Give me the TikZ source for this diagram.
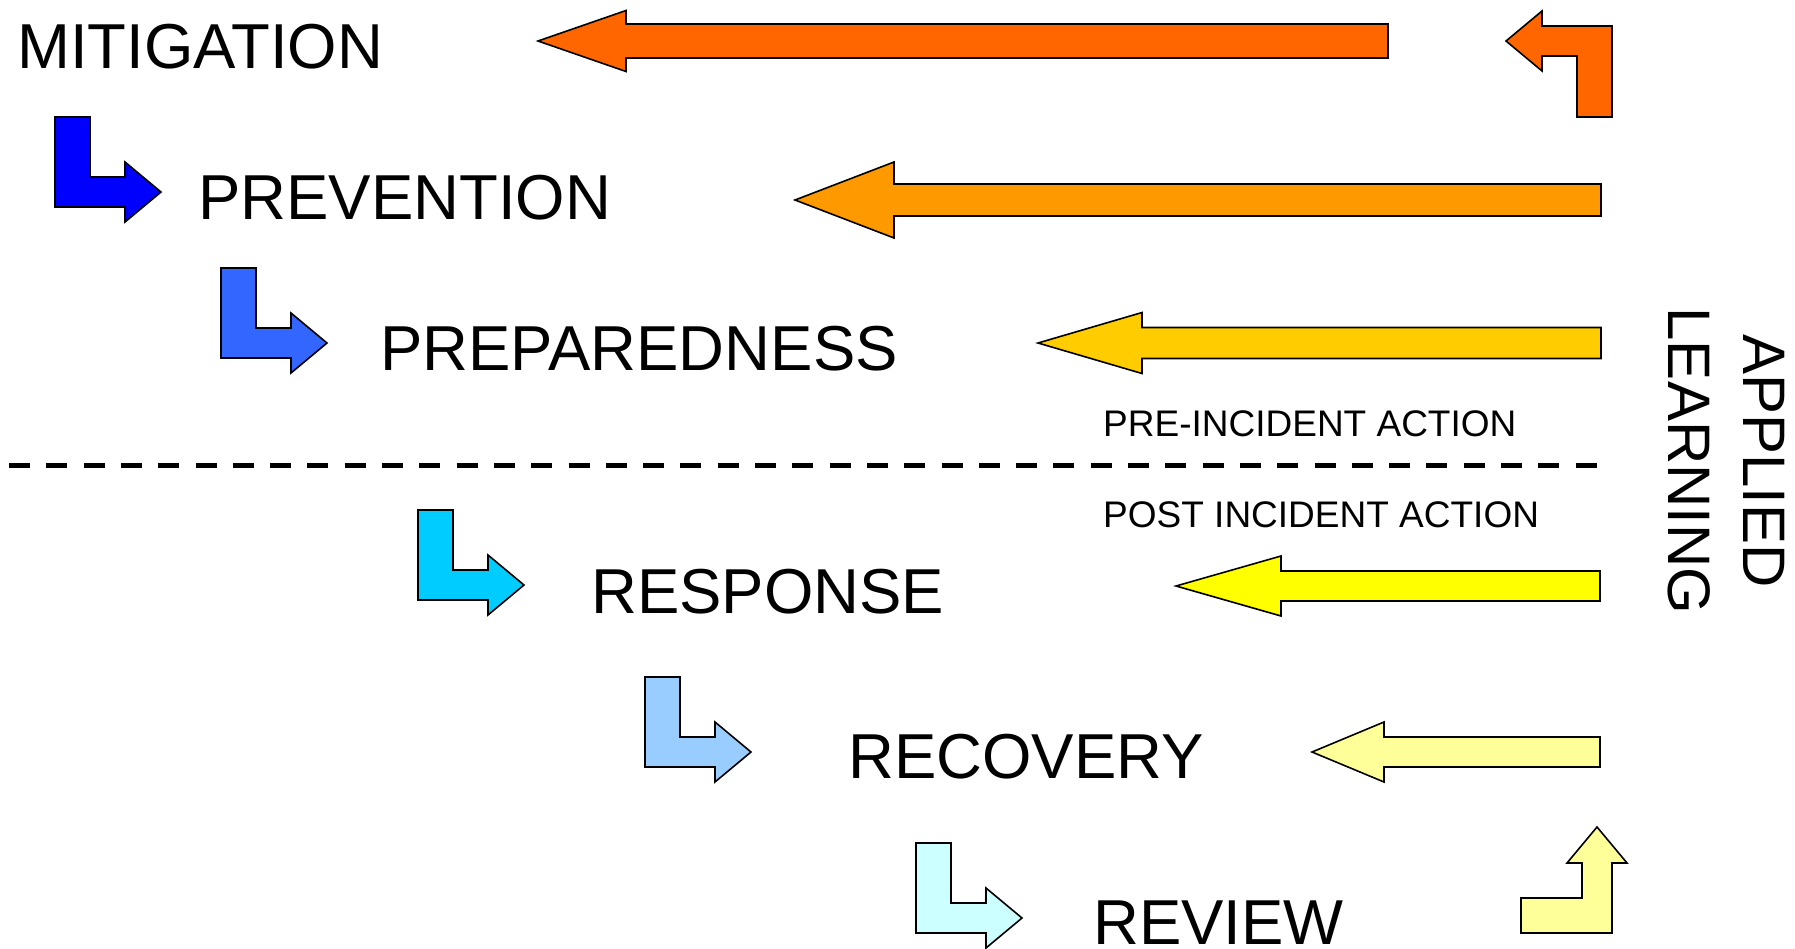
\documentclass[tikz,border=0pt]{standalone}
\usepackage{fontspec}
\setmainfont{Liberation Sans}
\usetikzlibrary{positioning}
\definecolor{learnA}{HTML}{FF6600}
\definecolor{learnB}{HTML}{FF9900}
\definecolor{learnC}{HTML}{FFCC00}
\definecolor{learnD}{HTML}{FFFF00}
\definecolor{learnE}{HTML}{FFFF99}
\definecolor{stageA}{HTML}{0000FF}
\definecolor{stageB}{HTML}{3366FF}
\definecolor{stageC}{HTML}{00CCFF}
\definecolor{stageD}{HTML}{99CCFF}
\definecolor{stageE}{HTML}{CCFFFF}
\tikzset{
  block/.style={draw=black, line width=1.6pt, line join=miter},
  stage/.style={font=\fontsize{63.5}{76}\selectfont, inner sep=0pt, anchor=base west},
  side/.style={font=\fontsize{37}{44}\selectfont, inner sep=0pt, anchor=base west}
}
% left pointing block arrow: colour, tip x, head x, end x, mid y, shaft half, head half
\newcommand{\leftblock}[7]{\draw[block, fill=#1] (#2,#5) -- (#3,{#5-#7}) -- (#3,{#5-#6}) -- (#4,{#5-#6}) -- (#4,{#5+#6}) -- (#3,{#5+#6}) -- (#3,{#5+#7}) -- cycle;}
% step arrow (down then right): colour, left x, top y
\newcommand{\stepdown}[3]{\draw[block, fill=#1] (#2,#3) -- ({#2+35},#3) -- ({#2+35},{#3+60}) -- ({#2+70},{#3+60}) -- ({#2+70},{#3+45}) -- ({#2+106},{#3+75}) -- ({#2+70},{#3+105}) -- ({#2+70},{#3+90}) -- (#2,{#3+90}) -- cycle;}

\begin{document}
\begin{tikzpicture}[x=1pt, y=-1pt]
\useasboundingbox (0,0) rectangle (1795,948);

\node[stage] (mitigation) at (17,68) {MITIGATION};
\node[stage] (prevention) at (198,219) {PREVENTION};
\node[stage] (preparedness) at (380,370) {PREPAREDNESS};
\node[stage] (response) at (591,613) {RESPONSE};
\node[stage] (recovery) at (848,778) {RECOVERY};
\node[stage] (review) at (1093,944) {REVIEW};

\stepdown{stageA}{55}{117};
\stepdown{stageB}{221}{268};
\stepdown{stageC}{418}{510};
\stepdown{stageD}{645}{677};
\stepdown{stageE}{916}{843};

\leftblock{learnA}{538}{626}{1388}{41}{17}{30.5};
\leftblock{learnB}{795}{894}{1601}{200}{16}{38};
\leftblock{learnC}{1038}{1142}{1601}{343}{15.5}{30.5};
\leftblock{learnD}{1176}{1281}{1600}{586}{15}{30};
\leftblock{learnE}{1312}{1384}{1600}{752}{15}{30};

% bent arrows at the right end
\draw[block, fill=learnA] (1506,41) -- (1542,11) -- (1542,26) -- (1612,26) -- (1612,117) -- (1577,117) -- (1577,56) -- (1542,56) -- (1542,71) -- cycle;
\draw[block, fill=learnE] (1597,827) -- (1627,863) -- (1612,863) -- (1612,933) -- (1521,933) -- (1521,898) -- (1582,898) -- (1582,863) -- (1567,863) -- cycle;

\coordinate (divleft) at (9,465);
\coordinate (divright) at (1600,465);
\draw[line width=5pt, dash pattern=on 21pt off 16.3pt] (divleft) -- (divright);
\node[side] (pre) at (1103,436) {PRE-INCIDENT ACTION};
\node[side] (post) at (1103,527) {POST INCIDENT ACTION};

\node[rotate=-90, align=center, inner sep=0pt, font=\fontsize{60}{75}\selectfont] (learning) at (1726,461) {APPLIED\\LEARNING};
\end{tikzpicture}
\end{document}
